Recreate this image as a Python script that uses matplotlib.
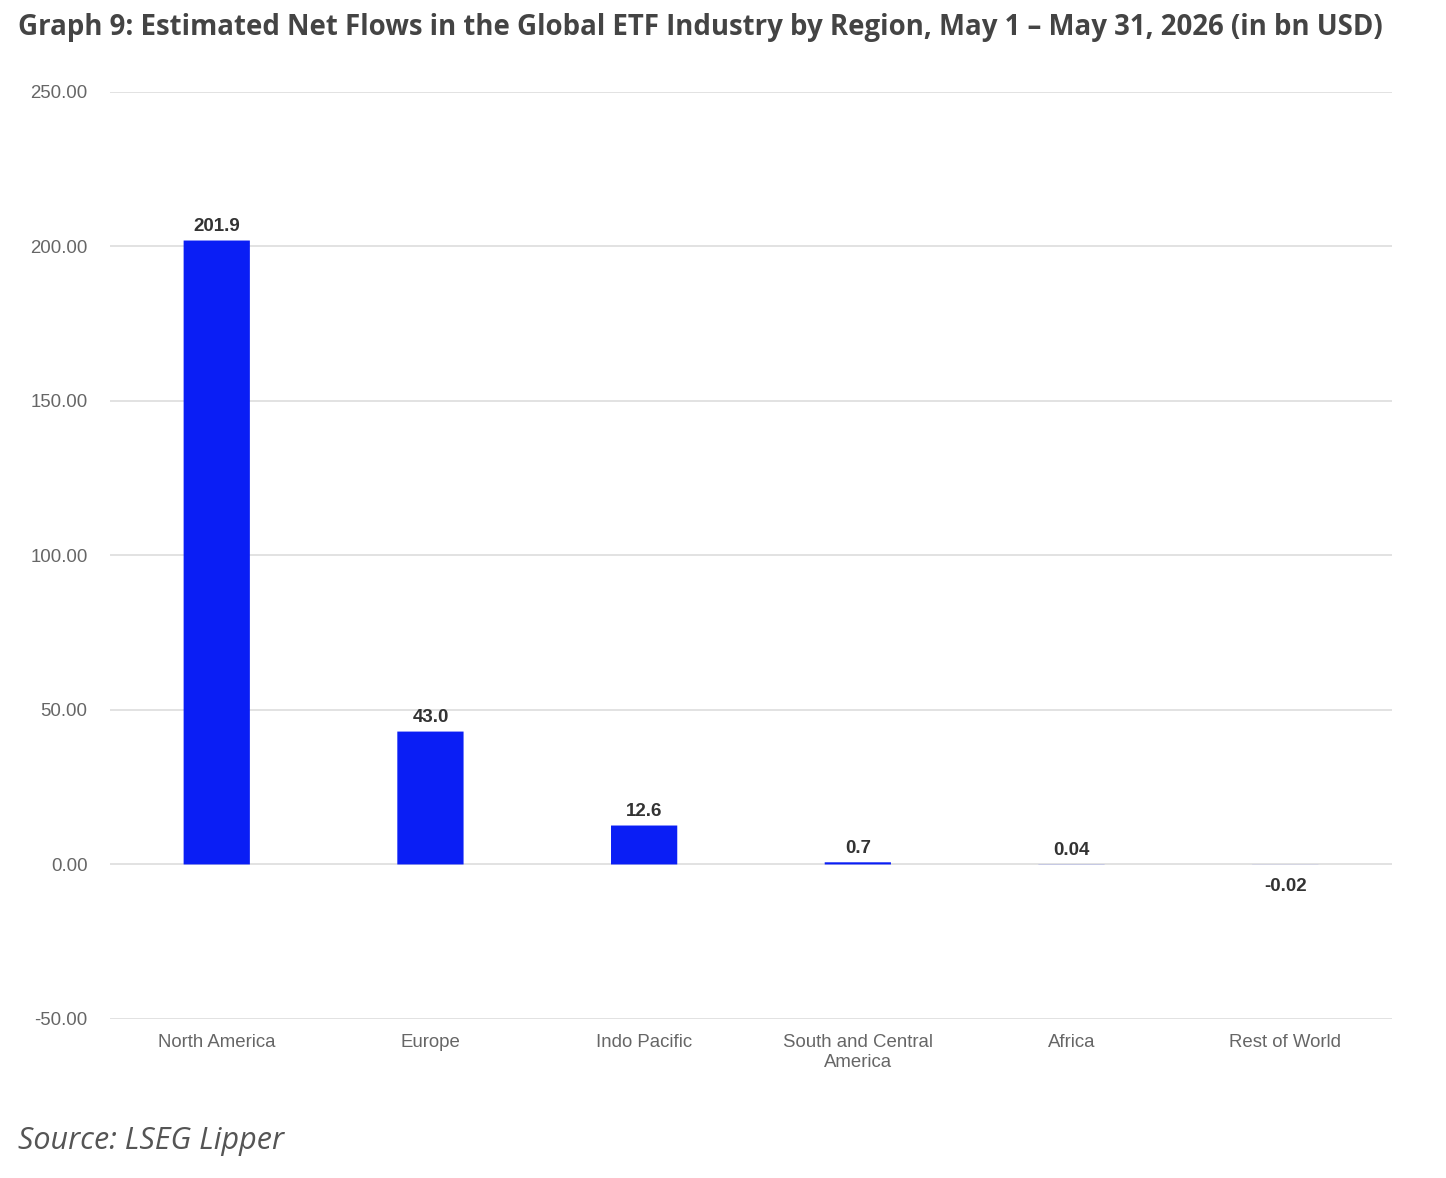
import matplotlib.pyplot as plt
import numpy as np

# data
regions = ["North America", "Europe", "Indo Pacific", "South and Central\nAmerica", "Africa", "Rest of World"]
flows = [201.9, 43.0, 12.6, 0.7, 0.04, -0.02]
labels = ["201.9", "43.0", "12.6", "0.7", "0.04", "-0.02"]
yticks = [-50, 0, 50, 100, 150, 200, 250]

fig = plt.figure(figsize=(14.46, 11.78), dpi=100)
ax = fig.add_axes([0.076, 0.135, 0.8867, 0.787])

x = np.arange(len(regions))
ax.bar(x, flows, width=0.31, color="#0a1ef5", zorder=3, snap=False, linewidth=0)

# value labels
for xi, v, lab in zip(x, flows, labels):
    if v >= 0:
        ax.annotate(lab, (xi, v), xytext=(0, 4), textcoords="offset points",
                    ha="center", va="bottom", fontsize=13.5, fontweight="bold",
                    color="#333333", family="Liberation Sans")
    else:
        ax.annotate(lab, (xi, v), xytext=(0, -10), textcoords="offset points",
                    ha="center", va="top", fontsize=13.5, fontweight="bold",
                    color="#333333", family="Liberation Sans")

ax.set_xlim(-0.5, len(regions) - 0.5)
ax.set_ylim(-50, 250)
ax.set_yticks(yticks)
ax.set_yticklabels(["%.2f" % t for t in yticks])
ax.set_xticks(x)
ax.set_xticklabels(regions)
for lab in ax.get_xticklabels() + ax.get_yticklabels():
    lab.set_family("Liberation Sans")
    lab.set_fontsize(13.4)
    lab.set_color("#666666")
ax.tick_params(axis="both", length=0)
ax.tick_params(axis="x", pad=11)
ax.tick_params(axis="y", pad=16)
ax.grid(axis="y", color="#dddddd", linewidth=1.2, zorder=0)
for s in ax.spines.values():
    s.set_visible(False)

fig.text(0.0125, 0.977, "Graph 9: Estimated Net Flows in the Global ETF Industry by Region, May 1 \u2013 May 31, 2026 (in bn USD)",
         ha="left", va="center", fontsize=19.9, fontweight="bold", color="#444444", family="Open Sans")
fig.text(0.0125, 0.031, "Source: LSEG Lipper", ha="left", va="center",
         fontsize=22, style="italic", color="#555555", family="Open Sans")

fig.savefig("out.png", dpi=100)
